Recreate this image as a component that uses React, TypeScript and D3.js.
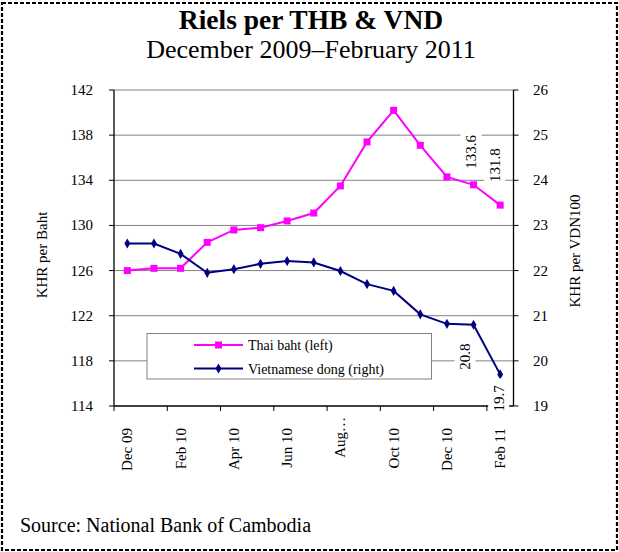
import React from "react";
import * as d3 from "d3";

const categories = [
  "Dec 09", "Jan 10", "Feb 10", "Mar 10", "Apr 10", "May 10", "Jun 10", "Jul 10",
  "Aug 10", "Sep 10", "Oct 10", "Nov 10", "Dec 10", "Jan 11", "Feb 11",
];
const tickLabels = ["Dec 09", "Feb 10", "Apr 10", "Jun 10", "Aug…", "Oct 10", "Dec 10", "Feb 11"];
const thaiBaht = [126.0, 126.2, 126.2, 128.5, 129.6, 129.8, 130.4, 131.1, 133.5, 137.4, 140.2, 137.1, 134.3, 133.6, 131.8];
const vietDong = [22.6, 22.6, 22.37, 21.95, 22.03, 22.15, 22.21, 22.18, 21.99, 21.7, 21.55, 21.03, 20.82, 20.8, 19.7];
const leftTicks = [114, 118, 122, 126, 130, 134, 138, 142];
const rightTicks = [19, 20, 21, 22, 23, 24, 25, 26];
const thaiLabels = [13, 14];
const dongLabels = [13, 14];

const W = 619;
const H = 552;
const L = 114;
const R = 513.5;
const T = 90;
const B = 406;
const FONT = "'Liberation Serif', 'Times New Roman', serif";
const MAGENTA = "#FF00FF";
const NAVY = "#000080";

export default function App() {
  const x = d3.scaleBand<number>().domain(d3.range(categories.length)).range([L, R]).padding(0);
  const cx = (i: number) => (x(i) as number) + x.bandwidth() / 2;
  const yL = d3.scaleLinear().domain([114, 142]).range([B, T]);
  const yR = d3.scaleLinear().domain([19, 26]).range([B, T]);

  const lineL = d3.line<number>().x((_, i) => cx(i)).y((d) => yL(d));
  const lineR = d3.line<number>().x((_, i) => cx(i)).y((d) => yR(d));

  const boundaries = d3.range(0, categories.length, 2).map((i) => x(i) as number);

  const thaiOff: Record<number, [number, number]> = { 13: [-3, -33], 14: [-6, -40] };
  const dongOff: Record<number, [number, number]> = { 13: [-9, 32], 14: [-2, 24] };

  const diamond = d3.symbol().type(d3.symbolDiamond).size(30)();

  const dataLabel = (px: number, py: number, text: string, key: string) => (
    <g key={key} transform={`translate(${px},${py}) rotate(-90)`}>
      <rect x={-20} y={-10} width={40} height={21} fill="#fff" />
      <text x={0} y={5.5} textAnchor="middle" fontSize={15} fontFamily={FONT} fill="#000">
        {text}
      </text>
    </g>
  );

  return (
    <svg width={W} height={H} style={{ position: "absolute", left: 0, top: 0, background: "#fff" }}>
      <rect x={0} y={0} width={W} height={H} fill="#fff" />
      <rect x={2} y={3} width={615} height={547} fill="none" stroke="#000" strokeWidth={2.2} strokeDasharray="4 2" />

      <text x={311} y={29} textAnchor="middle" fontFamily={FONT} fontWeight="bold" fontSize={27.5}>
        Riels per THB &amp; VND
      </text>
      <text x={311} y={58} textAnchor="middle" fontFamily={FONT} fontSize={26}>
        December 2009–February 2011
      </text>

      {/* gridlines */}
      {leftTicks.slice(1).map((t) => (
        <line key={"g" + t} x1={L} x2={R} y1={yL(t)} y2={yL(t)} stroke="#808080" strokeWidth={1} />
      ))}

      {/* axes */}
      <line x1={L} x2={L} y1={T} y2={B} stroke="#000" strokeWidth={1.3} />
      <line x1={R} x2={R} y1={T} y2={B} stroke="#000" strokeWidth={1.3} />
      <line x1={L} x2={R} y1={B} y2={B} stroke="#000" strokeWidth={1.3} />
      {leftTicks.map((t) => (
        <g key={"l" + t}>
          <line x1={L - 5} x2={L} y1={yL(t)} y2={yL(t)} stroke="#000" />
          <text x={93} y={yL(t) + 5} textAnchor="end" fontFamily={FONT} fontSize={15}>
            {t}
          </text>
        </g>
      ))}
      {rightTicks.map((t) => (
        <g key={"r" + t}>
          <line x1={R} x2={R + 5} y1={yR(t)} y2={yR(t)} stroke="#000" />
          <text x={533} y={yR(t) + 5} textAnchor="start" fontFamily={FONT} fontSize={15}>
            {t}
          </text>
        </g>
      ))}
      {boundaries.map((bx, k) => (
        <line key={"b" + k} x1={bx} x2={bx} y1={B} y2={B + 5} stroke="#000" />
      ))}
      {tickLabels.map((lab, k) => {
        const i = k * 2;
        const endY = lab.endsWith("…") ? 417 : 428;
        return (
          <text
            key={"x" + k}
            transform={`translate(${cx(i) + 5},${endY}) rotate(-90)`}
            textAnchor="end"
            fontFamily={FONT}
            fontSize={15}
          >
            {lab}
          </text>
        );
      })}

      <text transform={`translate(47,255) rotate(-90)`} textAnchor="middle" fontFamily={FONT} fontSize={15}>
        KHR per Baht
      </text>
      <text transform={`translate(580,251) rotate(-90)`} textAnchor="middle" fontFamily={FONT} fontSize={15}>
        KHR per VDN100
      </text>

      {/* legend */}
      <rect x={147} y={333.5} width={284.5} height={45.5} fill="#fff" stroke="#808080" strokeWidth={1} />
      <line x1={194} x2={243} y1={345} y2={345} stroke={MAGENTA} strokeWidth={2} />
      <rect x={215} y={341.5} width={7} height={7} fill={MAGENTA} />
      <text x={248} y={350} fontFamily={FONT} fontSize={14}>
        Thai baht (left)
      </text>
      <line x1={194} x2={243} y1={368.5} y2={368.5} stroke={NAVY} strokeWidth={2} />
      <path d={diamond as string} transform="translate(218.5,368.5)" fill={NAVY} />
      <text x={248} y={373.5} fontFamily={FONT} fontSize={14}>
        Vietnamese dong (right)
      </text>

      {/* series */}
      <path d={lineL(thaiBaht) as string} fill="none" stroke={MAGENTA} strokeWidth={2} />
      {thaiBaht.map((v, i) => (
        <rect key={"tm" + i} x={cx(i) - 3.5} y={yL(v) - 3.5} width={7} height={7} fill={MAGENTA} />
      ))}
      <path d={lineR(vietDong) as string} fill="none" stroke={NAVY} strokeWidth={2} />
      {vietDong.map((v, i) => (
        <path key={"vm" + i} d={diamond as string} transform={`translate(${cx(i)},${yR(v)})`} fill={NAVY} />
      ))}

      {/* data labels */}
      {thaiLabels.map((i) =>
        dataLabel(cx(i) + thaiOff[i][0], yL(thaiBaht[i]) + thaiOff[i][1], thaiBaht[i].toFixed(1), "tl" + i)
      )}
      {dongLabels.map((i) =>
        dataLabel(cx(i) + dongOff[i][0], yR(vietDong[i]) + dongOff[i][1], vietDong[i].toFixed(1), "dl" + i)
      )}

      <text x={20} y={532} fontFamily={FONT} fontSize={20}>
        Source: National Bank of Cambodia
      </text>
    </svg>
  );
}
